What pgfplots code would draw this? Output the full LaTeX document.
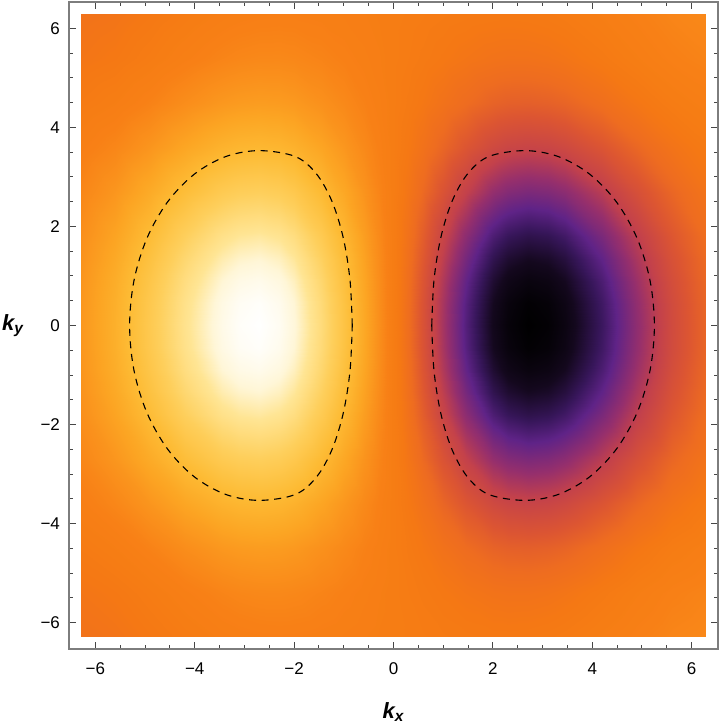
\documentclass[border=0pt]{standalone}
\usepackage{fontspec}
\setmainfont{Liberation Sans}
\usepackage{pgfplots}
\pgfplotsset{compat=1.18}

\definecolor{framegray}{RGB}{125,125,125}
\definecolor{tickgray}{RGB}{70,70,70}

\begin{document}
\begin{tikzpicture}
\begin{axis}[
    width=324.5pt, height=323.5pt, scale only axis,
    xmin=-6.53, xmax=6.53, ymin=-6.53, ymax=6.53,
    xtick={-6,-4,-2,0,2,4,6}, ytick={-6,-4,-2,0,2,4,6},
    xticklabels={−6,−4,−2,0,2,4,6},
    yticklabels={−6,−4,−2,0,2,4,6},
    minor tick num=3,
    tick align=inside,
    major tick length=3.5pt, minor tick length=2pt,
    axis line style={draw=framegray, line width=0.75pt},
    every tick/.style={draw=tickgray, line width=0.5pt},
    tick label style={font=\fontsize{8.5}{10}\selectfont},
    xticklabel style={yshift=-3.5pt},
    yticklabel style={xshift=-1pt},
    xlabel={\bfseries\itshape k\textsubscript{x}},
    ylabel={\bfseries\itshape k\textsubscript{y}},
    label style={font=\fontsize{11}{13}\selectfont},
    xlabel style={at={(axis description cs:0.5,0)}, anchor=north, yshift=-23pt},
    ylabel style={rotate=-90, at={(axis description cs:0,0.5)}, anchor=center, xshift=-28pt},
    colormap={sunset}{
        rgb255(0pt)=(0,0,0); rgb255(12pt)=(20,8,30); rgb255(24pt)=(55,22,90);
        rgb255(34pt)=(95,35,135); rgb255(48pt)=(150,47,108); rgb255(59pt)=(195,65,75);
        rgb255(73pt)=(220,85,50); rgb255(84pt)=(238,108,32); rgb255(94pt)=(245,120,20);
        rgb255(100pt)=(246,125,20); rgb255(106pt)=(248,128,22); rgb255(116pt)=(250,145,28);
        rgb255(127pt)=(252,165,35); rgb255(141pt)=(253,187,52); rgb255(159pt)=(254,207,92);
        rgb255(177pt)=(255,229,148); rgb255(188pt)=(255,246,215); rgb255(200pt)=(255,255,255)},
    point meta min=-1, point meta max=1,
    axis on top,
]

% density, rows of constant k_y, 27 columns in k_x
\addplot[surf, shader=interp, point meta=explicit, mesh/cols=27] coordinates {
(-6.28,-6.28)[-0.109] (-5.6,-6.28)[-0.092] (-4.9,-6.28)[-0.057] (-4.2,-6.28)[-0.017] (-3.45,-6.28)[0.021] (-3.1,-6.28)[0.033] (-2.7,-6.28)[0.042] (-2.3,-6.28)[0.046] (-2.0,-6.28)[0.045] (-1.45,-6.28)[0.037] (-1.0,-6.28)[0.027] (-0.6,-6.28)[0.016] (-0.3,-6.28)[0.008] (0,-6.28)[0] (0.3,-6.28)[-0.008] (0.6,-6.28)[-0.016] (1.0,-6.28)[-0.027] (1.45,-6.28)[-0.037] (2.0,-6.28)[-0.045] (2.3,-6.28)[-0.046] (2.7,-6.28)[-0.042] (3.1,-6.28)[-0.033] (3.45,-6.28)[-0.021] (4.2,-6.28)[0.017] (4.9,-6.28)[0.057] (5.6,-6.28)[0.092] (6.28,-6.28)[0.109]

(-6.28,-5.4)[-0.082] (-5.6,-5.4)[-0.057] (-4.9,-5.4)[-0.012] (-4.2,-5.4)[0.039] (-3.45,-5.4)[0.084] (-3.1,-5.4)[0.099] (-2.7,-5.4)[0.108] (-2.3,-5.4)[0.109] (-2.0,-5.4)[0.103] (-1.45,-5.4)[0.082] (-1.0,-5.4)[0.058] (-0.6,-5.4)[0.035] (-0.3,-5.4)[0.017] (0,-5.4)[0] (0.3,-5.4)[-0.017] (0.6,-5.4)[-0.035] (1.0,-5.4)[-0.058] (1.45,-5.4)[-0.082] (2.0,-5.4)[-0.103] (2.3,-5.4)[-0.109] (2.7,-5.4)[-0.108] (3.1,-5.4)[-0.099] (3.45,-5.4)[-0.084] (4.2,-5.4)[-0.039] (4.9,-5.4)[0.012] (5.6,-5.4)[0.057] (6.28,-5.4)[0.082]

(-6.28,-4.5)[-0.027] (-5.6,-4.5)[0.012] (-4.9,-4.5)[0.072] (-4.2,-4.5)[0.138] (-3.45,-4.5)[0.196] (-3.1,-4.5)[0.213] (-2.7,-4.5)[0.222] (-2.3,-4.5)[0.217] (-2.0,-4.5)[0.203] (-1.45,-4.5)[0.158] (-1.0,-4.5)[0.112] (-0.6,-4.5)[0.067] (-0.3,-4.5)[0.034] (0,-4.5)[0] (0.3,-4.5)[-0.034] (0.6,-4.5)[-0.067] (1.0,-4.5)[-0.112] (1.45,-4.5)[-0.158] (2.0,-4.5)[-0.203] (2.3,-4.5)[-0.217] (2.7,-4.5)[-0.222] (3.1,-4.5)[-0.213] (3.45,-4.5)[-0.196] (4.2,-4.5)[-0.138] (4.9,-4.5)[-0.072] (5.6,-4.5)[-0.012] (6.28,-4.5)[0.027]

(-6.28,-3.6)[0.038] (-5.6,-3.6)[0.098] (-4.9,-3.6)[0.183] (-4.2,-3.6)[0.275] (-3.45,-3.6)[0.354] (-3.1,-3.6)[0.377] (-2.7,-3.6)[0.386] (-2.3,-3.6)[0.374] (-2.0,-3.6)[0.347] (-1.45,-3.6)[0.270] (-1.0,-3.6)[0.190] (-0.6,-3.6)[0.114] (-0.3,-3.6)[0.057] (0,-3.6)[0] (0.3,-3.6)[-0.057] (0.6,-3.6)[-0.114] (1.0,-3.6)[-0.190] (1.45,-3.6)[-0.270] (2.0,-3.6)[-0.347] (2.3,-3.6)[-0.374] (2.7,-3.6)[-0.386] (3.1,-3.6)[-0.377] (3.45,-3.6)[-0.354] (4.2,-3.6)[-0.275] (4.9,-3.6)[-0.183] (5.6,-3.6)[-0.098] (6.28,-3.6)[-0.038]

(-6.28,-2.7)[0.099] (-5.6,-2.7)[0.187] (-4.9,-2.7)[0.307] (-4.2,-2.7)[0.435] (-3.45,-2.7)[0.545] (-3.1,-2.7)[0.576] (-2.7,-2.7)[0.588] (-2.3,-2.7)[0.567] (-2.0,-2.7)[0.526] (-1.45,-2.7)[0.407] (-1.0,-2.7)[0.286] (-0.6,-2.7)[0.173] (-0.3,-2.7)[0.086] (0,-2.7)[0] (0.3,-2.7)[-0.086] (0.6,-2.7)[-0.173] (1.0,-2.7)[-0.286] (1.45,-2.7)[-0.407] (2.0,-2.7)[-0.526] (2.3,-2.7)[-0.567] (2.7,-2.7)[-0.588] (3.1,-2.7)[-0.576] (3.45,-2.7)[-0.545] (4.2,-2.7)[-0.435] (4.9,-2.7)[-0.307] (5.6,-2.7)[-0.187] (6.28,-2.7)[-0.099]

(-6.28,-1.8)[0.148] (-5.6,-1.8)[0.264] (-4.9,-1.8)[0.422] (-4.2,-1.8)[0.591] (-3.45,-1.8)[0.734] (-3.1,-1.8)[0.774] (-2.7,-1.8)[0.789] (-2.3,-1.8)[0.760] (-2.0,-1.8)[0.705] (-1.45,-1.8)[0.546] (-1.0,-1.8)[0.384] (-0.6,-1.8)[0.231] (-0.3,-1.8)[0.115] (0,-1.8)[0] (0.3,-1.8)[-0.115] (0.6,-1.8)[-0.231] (1.0,-1.8)[-0.384] (1.45,-1.8)[-0.546] (2.0,-1.8)[-0.705] (2.3,-1.8)[-0.760] (2.7,-1.8)[-0.789] (3.1,-1.8)[-0.774] (3.45,-1.8)[-0.734] (4.2,-1.8)[-0.591] (4.9,-1.8)[-0.422] (5.6,-1.8)[-0.264] (6.28,-1.8)[-0.148]

(-6.28,-1.35)[0.167] (-5.6,-1.35)[0.296] (-4.9,-1.35)[0.470] (-4.2,-1.35)[0.657] (-3.45,-1.35)[0.815] (-3.1,-1.35)[0.859] (-2.7,-1.35)[0.875] (-2.3,-1.35)[0.843] (-2.0,-1.35)[0.781] (-1.45,-1.35)[0.605] (-1.0,-1.35)[0.425] (-0.6,-1.35)[0.256] (-0.3,-1.35)[0.128] (0,-1.35)[0] (0.3,-1.35)[-0.128] (0.6,-1.35)[-0.256] (1.0,-1.35)[-0.425] (1.45,-1.35)[-0.605] (2.0,-1.35)[-0.781] (2.3,-1.35)[-0.843] (2.7,-1.35)[-0.875] (3.1,-1.35)[-0.859] (3.45,-1.35)[-0.815] (4.2,-1.35)[-0.657] (4.9,-1.35)[-0.470] (5.6,-1.35)[-0.296] (6.28,-1.35)[-0.167]

(-6.28,-0.9)[0.181] (-5.6,-0.9)[0.320] (-4.9,-0.9)[0.506] (-4.2,-0.9)[0.707] (-3.45,-0.9)[0.877] (-3.1,-0.9)[0.924] (-2.7,-0.9)[0.941] (-2.3,-0.9)[0.906] (-2.0,-0.9)[0.840] (-1.45,-0.9)[0.651] (-1.0,-0.9)[0.457] (-0.6,-0.9)[0.275] (-0.3,-0.9)[0.137] (0,-0.9)[0] (0.3,-0.9)[-0.137] (0.6,-0.9)[-0.275] (1.0,-0.9)[-0.457] (1.45,-0.9)[-0.651] (2.0,-0.9)[-0.840] (2.3,-0.9)[-0.906] (2.7,-0.9)[-0.941] (3.1,-0.9)[-0.924] (3.45,-0.9)[-0.877] (4.2,-0.9)[-0.707] (4.9,-0.9)[-0.506] (5.6,-0.9)[-0.320] (6.28,-0.9)[-0.181]

(-6.28,-0.45)[0.190] (-5.6,-0.45)[0.335] (-4.9,-0.45)[0.530] (-4.2,-0.45)[0.739] (-3.45,-0.45)[0.917] (-3.1,-0.45)[0.966] (-2.7,-0.45)[0.984] (-2.3,-0.45)[0.947] (-2.0,-0.45)[0.878] (-1.45,-0.45)[0.680] (-1.0,-0.45)[0.478] (-0.6,-0.45)[0.288] (-0.3,-0.45)[0.143] (0,-0.45)[0] (0.3,-0.45)[-0.143] (0.6,-0.45)[-0.288] (1.0,-0.45)[-0.478] (1.45,-0.45)[-0.680] (2.0,-0.45)[-0.878] (2.3,-0.45)[-0.947] (2.7,-0.45)[-0.984] (3.1,-0.45)[-0.966] (3.45,-0.45)[-0.917] (4.2,-0.45)[-0.739] (4.9,-0.45)[-0.530] (5.6,-0.45)[-0.335] (6.28,-0.45)[-0.190]

(-6.28,0)[0.193] (-5.6,0)[0.340] (-4.9,0)[0.538] (-4.2,0)[0.750] (-3.45,0)[0.930] (-3.1,0)[0.980] (-2.7,0)[0.998] (-2.3,0)[0.961] (-2.0,0)[0.891] (-1.45,0)[0.690] (-1.0,0)[0.485] (-0.6,0)[0.292] (-0.3,0)[0.146] (0,0)[0] (0.3,0)[-0.146] (0.6,0)[-0.292] (1.0,0)[-0.485] (1.45,0)[-0.690] (2.0,0)[-0.891] (2.3,0)[-0.961] (2.7,0)[-0.998] (3.1,0)[-0.980] (3.45,0)[-0.930] (4.2,0)[-0.750] (4.9,0)[-0.538] (5.6,0)[-0.340] (6.28,0)[-0.193]

(-6.28,0.45)[0.190] (-5.6,0.45)[0.335] (-4.9,0.45)[0.530] (-4.2,0.45)[0.739] (-3.45,0.45)[0.917] (-3.1,0.45)[0.966] (-2.7,0.45)[0.984] (-2.3,0.45)[0.947] (-2.0,0.45)[0.878] (-1.45,0.45)[0.680] (-1.0,0.45)[0.478] (-0.6,0.45)[0.288] (-0.3,0.45)[0.143] (0,0.45)[0] (0.3,0.45)[-0.143] (0.6,0.45)[-0.288] (1.0,0.45)[-0.478] (1.45,0.45)[-0.680] (2.0,0.45)[-0.878] (2.3,0.45)[-0.947] (2.7,0.45)[-0.984] (3.1,0.45)[-0.966] (3.45,0.45)[-0.917] (4.2,0.45)[-0.739] (4.9,0.45)[-0.530] (5.6,0.45)[-0.335] (6.28,0.45)[-0.190]

(-6.28,0.9)[0.181] (-5.6,0.9)[0.320] (-4.9,0.9)[0.506] (-4.2,0.9)[0.707] (-3.45,0.9)[0.877] (-3.1,0.9)[0.924] (-2.7,0.9)[0.941] (-2.3,0.9)[0.906] (-2.0,0.9)[0.840] (-1.45,0.9)[0.651] (-1.0,0.9)[0.457] (-0.6,0.9)[0.275] (-0.3,0.9)[0.137] (0,0.9)[0] (0.3,0.9)[-0.137] (0.6,0.9)[-0.275] (1.0,0.9)[-0.457] (1.45,0.9)[-0.651] (2.0,0.9)[-0.840] (2.3,0.9)[-0.906] (2.7,0.9)[-0.941] (3.1,0.9)[-0.924] (3.45,0.9)[-0.877] (4.2,0.9)[-0.707] (4.9,0.9)[-0.506] (5.6,0.9)[-0.320] (6.28,0.9)[-0.181]

(-6.28,1.35)[0.167] (-5.6,1.35)[0.296] (-4.9,1.35)[0.470] (-4.2,1.35)[0.657] (-3.45,1.35)[0.815] (-3.1,1.35)[0.859] (-2.7,1.35)[0.875] (-2.3,1.35)[0.843] (-2.0,1.35)[0.781] (-1.45,1.35)[0.605] (-1.0,1.35)[0.425] (-0.6,1.35)[0.256] (-0.3,1.35)[0.128] (0,1.35)[0] (0.3,1.35)[-0.128] (0.6,1.35)[-0.256] (1.0,1.35)[-0.425] (1.45,1.35)[-0.605] (2.0,1.35)[-0.781] (2.3,1.35)[-0.843] (2.7,1.35)[-0.875] (3.1,1.35)[-0.859] (3.45,1.35)[-0.815] (4.2,1.35)[-0.657] (4.9,1.35)[-0.470] (5.6,1.35)[-0.296] (6.28,1.35)[-0.167]

(-6.28,1.8)[0.148] (-5.6,1.8)[0.264] (-4.9,1.8)[0.422] (-4.2,1.8)[0.591] (-3.45,1.8)[0.734] (-3.1,1.8)[0.774] (-2.7,1.8)[0.789] (-2.3,1.8)[0.760] (-2.0,1.8)[0.705] (-1.45,1.8)[0.546] (-1.0,1.8)[0.384] (-0.6,1.8)[0.231] (-0.3,1.8)[0.115] (0,1.8)[0] (0.3,1.8)[-0.115] (0.6,1.8)[-0.231] (1.0,1.8)[-0.384] (1.45,1.8)[-0.546] (2.0,1.8)[-0.705] (2.3,1.8)[-0.760] (2.7,1.8)[-0.789] (3.1,1.8)[-0.774] (3.45,1.8)[-0.734] (4.2,1.8)[-0.591] (4.9,1.8)[-0.422] (5.6,1.8)[-0.264] (6.28,1.8)[-0.148]

(-6.28,2.7)[0.099] (-5.6,2.7)[0.187] (-4.9,2.7)[0.307] (-4.2,2.7)[0.435] (-3.45,2.7)[0.545] (-3.1,2.7)[0.576] (-2.7,2.7)[0.588] (-2.3,2.7)[0.567] (-2.0,2.7)[0.526] (-1.45,2.7)[0.407] (-1.0,2.7)[0.286] (-0.6,2.7)[0.173] (-0.3,2.7)[0.086] (0,2.7)[0] (0.3,2.7)[-0.086] (0.6,2.7)[-0.173] (1.0,2.7)[-0.286] (1.45,2.7)[-0.407] (2.0,2.7)[-0.526] (2.3,2.7)[-0.567] (2.7,2.7)[-0.588] (3.1,2.7)[-0.576] (3.45,2.7)[-0.545] (4.2,2.7)[-0.435] (4.9,2.7)[-0.307] (5.6,2.7)[-0.187] (6.28,2.7)[-0.099]

(-6.28,3.6)[0.038] (-5.6,3.6)[0.098] (-4.9,3.6)[0.183] (-4.2,3.6)[0.275] (-3.45,3.6)[0.354] (-3.1,3.6)[0.377] (-2.7,3.6)[0.386] (-2.3,3.6)[0.374] (-2.0,3.6)[0.347] (-1.45,3.6)[0.270] (-1.0,3.6)[0.190] (-0.6,3.6)[0.114] (-0.3,3.6)[0.057] (0,3.6)[0] (0.3,3.6)[-0.057] (0.6,3.6)[-0.114] (1.0,3.6)[-0.190] (1.45,3.6)[-0.270] (2.0,3.6)[-0.347] (2.3,3.6)[-0.374] (2.7,3.6)[-0.386] (3.1,3.6)[-0.377] (3.45,3.6)[-0.354] (4.2,3.6)[-0.275] (4.9,3.6)[-0.183] (5.6,3.6)[-0.098] (6.28,3.6)[-0.038]

(-6.28,4.5)[-0.027] (-5.6,4.5)[0.012] (-4.9,4.5)[0.072] (-4.2,4.5)[0.138] (-3.45,4.5)[0.196] (-3.1,4.5)[0.213] (-2.7,4.5)[0.222] (-2.3,4.5)[0.217] (-2.0,4.5)[0.203] (-1.45,4.5)[0.158] (-1.0,4.5)[0.112] (-0.6,4.5)[0.067] (-0.3,4.5)[0.034] (0,4.5)[0] (0.3,4.5)[-0.034] (0.6,4.5)[-0.067] (1.0,4.5)[-0.112] (1.45,4.5)[-0.158] (2.0,4.5)[-0.203] (2.3,4.5)[-0.217] (2.7,4.5)[-0.222] (3.1,4.5)[-0.213] (3.45,4.5)[-0.196] (4.2,4.5)[-0.138] (4.9,4.5)[-0.072] (5.6,4.5)[-0.012] (6.28,4.5)[0.027]

(-6.28,5.4)[-0.082] (-5.6,5.4)[-0.057] (-4.9,5.4)[-0.012] (-4.2,5.4)[0.039] (-3.45,5.4)[0.084] (-3.1,5.4)[0.099] (-2.7,5.4)[0.108] (-2.3,5.4)[0.109] (-2.0,5.4)[0.103] (-1.45,5.4)[0.082] (-1.0,5.4)[0.058] (-0.6,5.4)[0.035] (-0.3,5.4)[0.017] (0,5.4)[0] (0.3,5.4)[-0.017] (0.6,5.4)[-0.035] (1.0,5.4)[-0.058] (1.45,5.4)[-0.082] (2.0,5.4)[-0.103] (2.3,5.4)[-0.109] (2.7,5.4)[-0.108] (3.1,5.4)[-0.099] (3.45,5.4)[-0.084] (4.2,5.4)[-0.039] (4.9,5.4)[0.012] (5.6,5.4)[0.057] (6.28,5.4)[0.082]

(-6.28,6.28)[-0.109] (-5.6,6.28)[-0.092] (-4.9,6.28)[-0.057] (-4.2,6.28)[-0.017] (-3.45,6.28)[0.021] (-3.1,6.28)[0.033] (-2.7,6.28)[0.042] (-2.3,6.28)[0.046] (-2.0,6.28)[0.045] (-1.45,6.28)[0.037] (-1.0,6.28)[0.027] (-0.6,6.28)[0.016] (-0.3,6.28)[0.008] (0,6.28)[0] (0.3,6.28)[-0.008] (0.6,6.28)[-0.016] (1.0,6.28)[-0.027] (1.45,6.28)[-0.037] (2.0,6.28)[-0.045] (2.3,6.28)[-0.046] (2.7,6.28)[-0.042] (3.1,6.28)[-0.033] (3.45,6.28)[-0.021] (4.2,6.28)[0.017] (4.9,6.28)[0.057] (5.6,6.28)[0.092] (6.28,6.28)[0.109]
};

% dashed contours
\addplot[black, line width=0.55pt, dash pattern=on 3.5pt off 2.8pt, smooth, tension=0.55] coordinates {
(-0.83,0) (-0.875,0.914) (-1.01,1.765) (-1.234,2.496) (-1.548,3.057) (-1.974,3.41) (-2.7,3.53) (-3.376,3.41) (-4.005,3.057) (-4.545,2.496) (-4.96,1.765) (-5.221,0.914) (-5.31,0)
(-5.221,-0.914) (-4.96,-1.765) (-4.545,-2.496) (-4.005,-3.057) (-3.376,-3.41) (-2.7,-3.53) (-1.974,-3.41) (-1.548,-3.057) (-1.234,-2.496) (-1.01,-1.765) (-0.875,-0.914) (-0.83,0)
};
\addplot[black, line width=0.55pt, dash pattern=on 3.5pt off 2.8pt, smooth, tension=0.55] coordinates {
(0.77,0) (0.815,0.914) (0.95,1.765) (1.174,2.496) (1.488,3.057) (1.914,3.41) (2.64,3.53) (3.316,3.41) (3.945,3.057) (4.485,2.496) (4.90,1.765) (5.161,0.914) (5.25,0)
(5.161,-0.914) (4.90,-1.765) (4.485,-2.496) (3.945,-3.057) (3.316,-3.41) (2.64,-3.53) (1.914,-3.41) (1.488,-3.057) (1.174,-2.496) (0.95,-1.765) (0.815,-0.914) (0.77,0)
};
\end{axis}
\pgfresetboundingbox
\path[use as bounding box] ([xshift=-34.5pt,yshift=-39.5pt]current axis.south west) rectangle ([xshift=1pt,yshift=1pt]current axis.north east);
\end{tikzpicture}
\end{document}
